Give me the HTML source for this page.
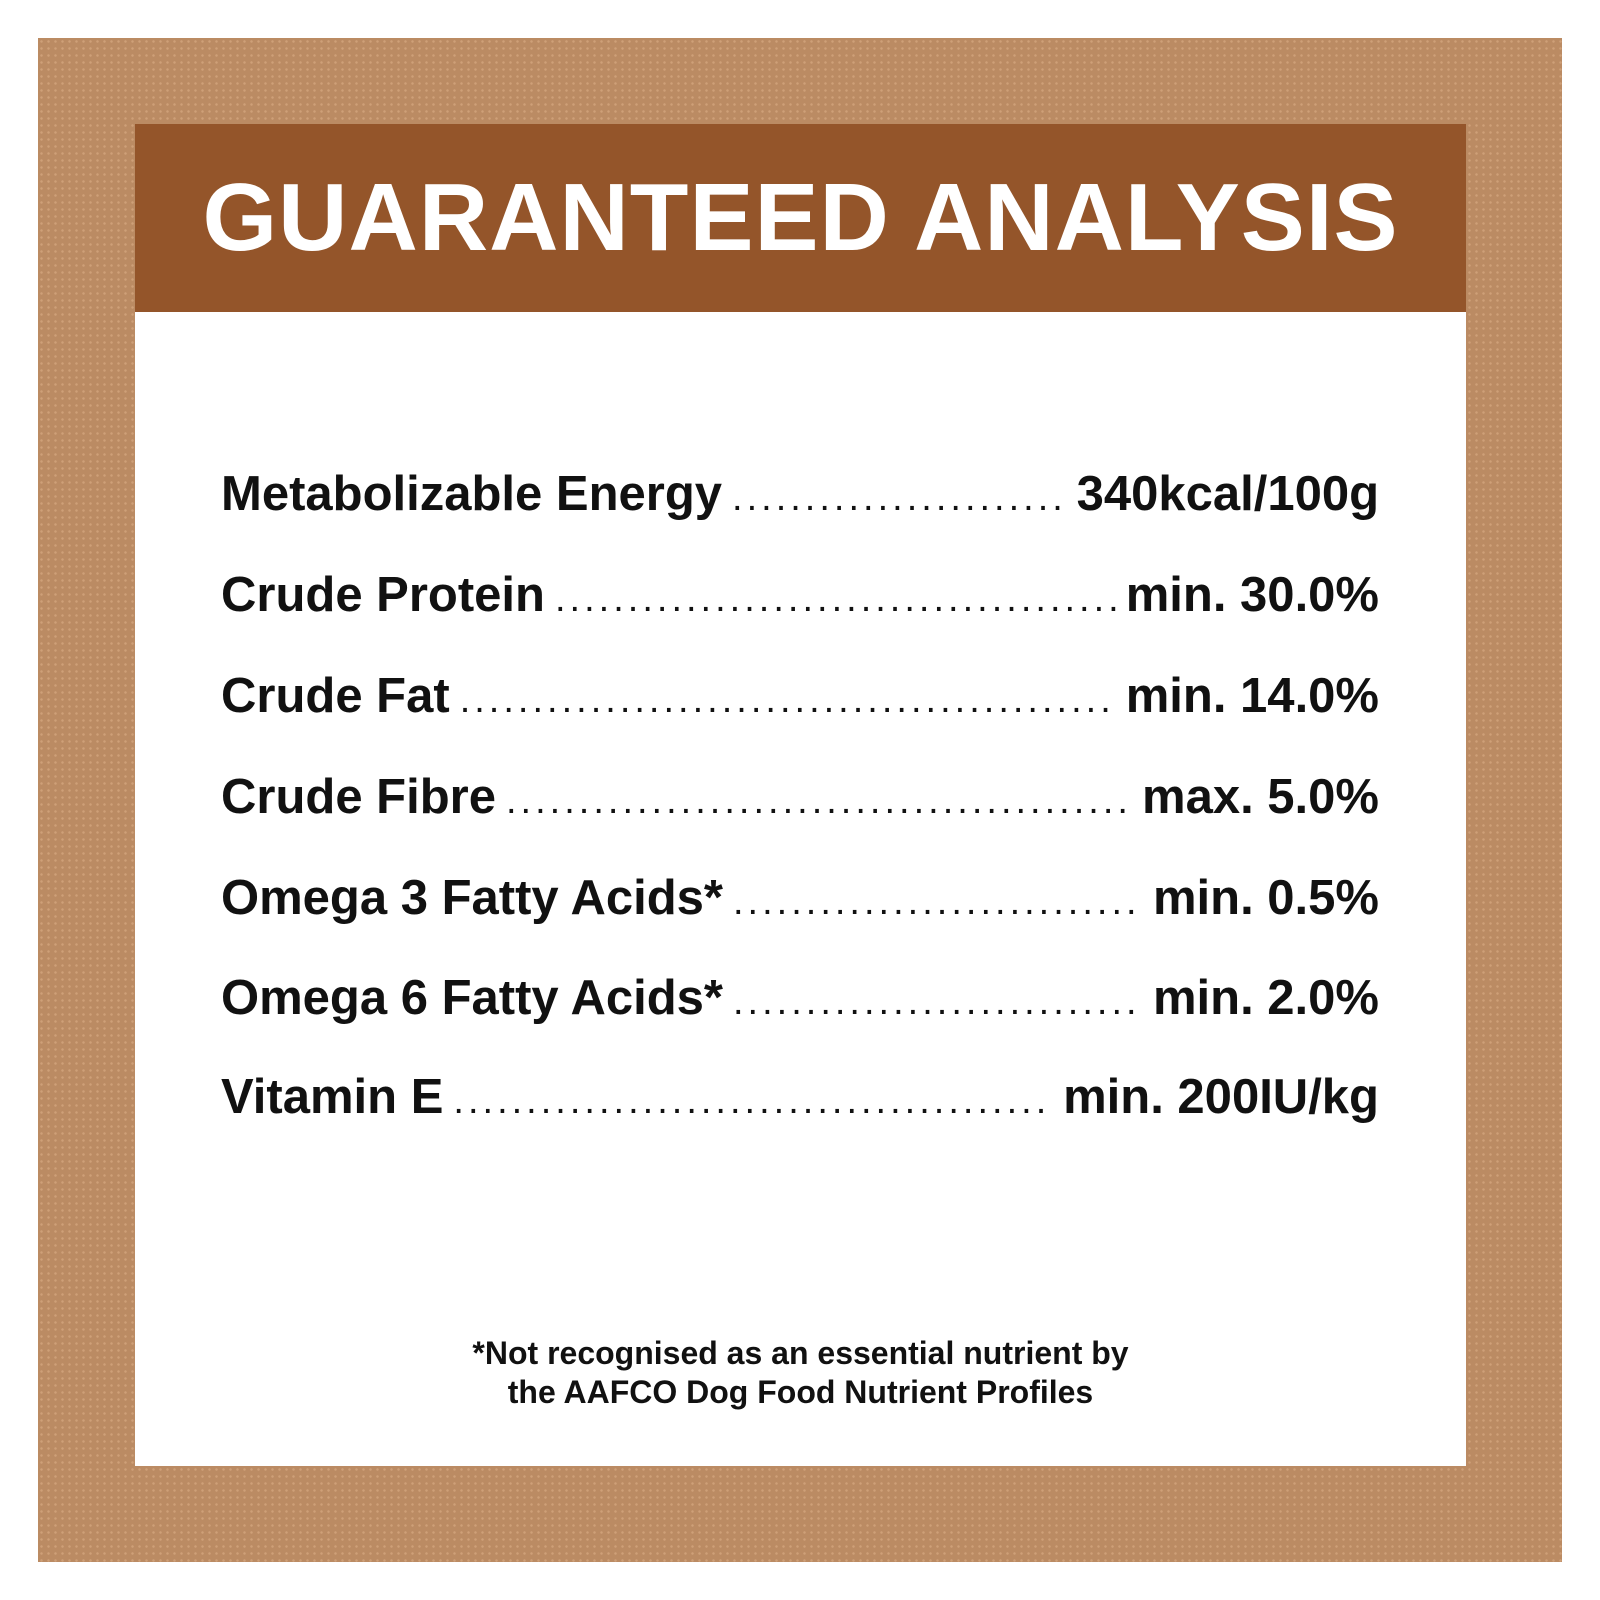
<!DOCTYPE html>
<html><head><meta charset="utf-8"><style>
body{margin:0;width:1600px;height:1600px;background:#fff;position:relative;font-family:"Liberation Sans",sans-serif;overflow:hidden}
.frame{position:absolute;left:38px;top:38px;width:1524px;height:1524px;background:#bb8b63;
background-image:radial-gradient(rgba(240,200,160,.35) 1px,transparent 1.5px);background-size:7px 7px}
.panel{position:absolute;left:135px;top:124px;width:1331px;height:1342px;background:#fff}
.head{position:absolute;left:0;top:0;width:100%;height:188px;background:#94552a;color:#fff;font-weight:bold;font-size:96px;text-align:center;line-height:188px;letter-spacing:1px}
.row{position:absolute;left:86px;width:1158px;display:flex;align-items:baseline;font-weight:bold;font-size:49px;color:#111}
.row .d{flex:1;overflow:hidden;white-space:nowrap;margin:0 10px;letter-spacing:4px;font-weight:normal;font-size:38px}
.row .d::after{content:"....................................................................................................";}
.foot{position:absolute;left:0;width:100%;top:1210px;text-align:center;font-weight:bold;font-size:32px;line-height:39px;color:#111}
</style></head><body>
<div class="frame"></div>
<div class="panel">
<div class="head">GUARANTEED ANALYSIS</div>
<div class="row" style="top:342px"><span>Metabolizable Energy</span><span class="d"></span><span>340kcal/100g</span></div>
<div class="row" style="top:443px"><span>Crude Protein</span><span class="d"></span><span>min. 30.0%</span></div>
<div class="row" style="top:544px"><span>Crude Fat</span><span class="d"></span><span>min. 14.0%</span></div>
<div class="row" style="top:645px"><span>Crude Fibre</span><span class="d"></span><span>max. 5.0%</span></div>
<div class="row" style="top:746px"><span>Omega 3 Fatty Acids*</span><span class="d"></span><span>min. 0.5%</span></div>
<div class="row" style="top:846px"><span>Omega 6 Fatty Acids*</span><span class="d"></span><span>min. 2.0%</span></div>
<div class="row" style="top:945px"><span>Vitamin E</span><span class="d"></span><span>min. 200IU/kg</span></div>
<div class="foot">*Not recognised as an essential nutrient by<br>the AAFCO Dog Food Nutrient Profiles</div>
</div>
</body></html>
